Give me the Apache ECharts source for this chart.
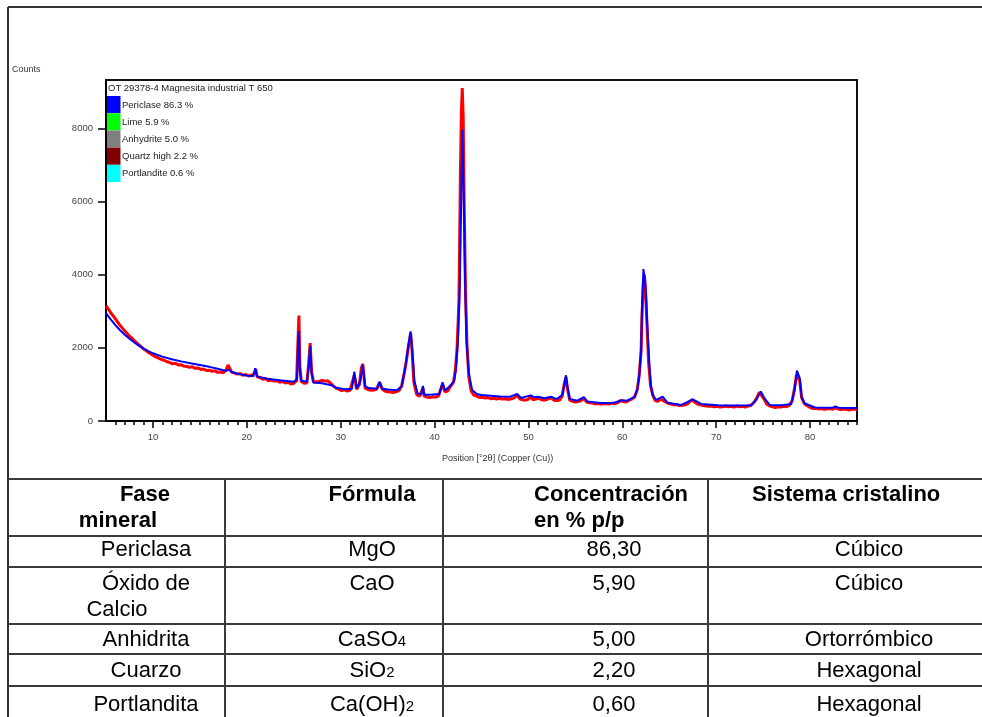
<!DOCTYPE html>
<html><head><meta charset="utf-8">
<script src="https://cdn.jsdelivr.net/npm/echarts@6/dist/echarts.min.js"></script>
<style>
html,body{margin:0;padding:0;background:#fff;}
#chart{position:absolute;left:0;top:0;width:982px;height:717px;}
#tbl{position:absolute;left:0;top:0;width:982px;height:717px;pointer-events:none;font-family:"Liberation Sans",Arial,sans-serif;color:#000;}
.t{position:absolute;white-space:nowrap;font-size:22px;line-height:1;}
.c{transform:translate(-50%,-50%);}
.l{transform:translateY(-50%);}
.b{font-weight:bold;}
.hl{position:absolute;height:2px;background:#3a3a3a;}
.vl{position:absolute;width:2px;background:#3a3a3a;}
.sb{font-size:15px;}
</style>
</head><body>
<div id="chart"></div>
<div id="tbl"></div>
<script>
// ---------- data ----------
const sampleTitle = 'OT 29378-4 Magnesita industrial T 650';
const phaseNames = ['Periclase', 'Lime', 'Anhydrite', 'Quartz high', 'Portlandite'];
const phasePct = ['86.3', '5.9', '5.0', '2.2', '0.6'];
const xTickLabels = [10, 20, 30, 40, 50, 60, 70, 80];
const yTickLabels = [0, 2000, 4000, 6000, 8000];
const xAxisTitle = 'Position [°2θ] (Copper (Cu))';
const yAxisTitle = 'Counts';

// calculated profile (blue) [2θ, counts]
const calcProfile = [
[5,2950],[5.5,2780],[6,2620],[6.5,2480],[7,2360],[7.5,2250],[8,2150],[8.5,2060],[9,1980],[9.5,1910],[10,1850],[11,1760],[12,1690],[13,1630],[14,1580],[15,1530],[16,1480],[17,1420],[17.8,1370],[18.1,1400],[18.4,1340],[19,1290],[20,1240],[20.7,1220],[20.9,1440],[21.1,1220],[22,1160],[23,1130],[24,1100],[25,1070],[25.35,1150],[25.45,2000],[25.55,2450],[25.65,1400],[25.8,1100],[26.4,1070],[26.6,1500],[26.75,2050],[26.9,1300],[27.1,1050],[28,1030],[29,980],[29.6,900],[30.5,870],[31.2,880],[31.45,1350],[31.7,890],[32.1,1100],[32.35,1540],[32.6,950],[33,900],[33.9,880],[34.15,1070],[34.4,890],[35,860],[36,840],[36.5,950],[36.9,1500],[37.2,2050],[37.45,2450],[37.6,2000],[37.85,1100],[38.2,750],[38.6,730],[38.76,960],[38.9,720],[39.5,720],[40.5,740],[40.85,1060],[41.1,830],[41.8,1000],[42.1,1100],[42.3,1480],[42.5,2250],[42.7,3850],[42.85,6250],[42.95,7950],[43.1,6300],[43.25,3850],[43.4,2200],[43.65,1300],[44,850],[44.5,740],[45,710],[46,690],[47,670],[48,660],[48.8,740],[49.2,630],[50.25,700],[50.6,650],[51,665],[51.7,620],[52.4,665],[53,600],[53.6,710],[53.8,950],[54.0,1250],[54.15,950],[54.4,600],[55.2,555],[55.9,650],[56.3,530],[57.7,490],[59.1,500],[60,570],[60.5,555],[61.3,660],[61.6,850],[61.8,1230],[62.0,1940],[62.1,3100],[62.25,4150],[62.4,4180],[62.5,3580],[62.7,2390],[62.9,1480],[63.06,940],[63.25,710],[63.6,575],[64.3,665],[64.8,500],[66.3,440],[67.5,590],[68.4,465],[70.2,430],[72,425],[73.7,430],[74.25,570],[74.75,810],[75.15,620],[75.7,440],[77,430],[78.0,465],[78.35,850],[78.6,1380],[78.9,1170],[79.1,660],[79.4,485],[80.5,370],[82.4,360],[82.7,400],[83,365],[85,355]
];

// observed profile (red) [2θ, counts]
const obsProfile = [
[5,3150],[5.25,3060],[5.5,2960],[5.75,2880],[6,2790],[6.25,2700],[6.5,2610],[6.75,2540],[7,2460],[7.25,2390],[7.5,2320],[7.75,2270],[8,2200],[8.25,2140],[8.5,2080],[8.75,2030],[9,1970],[9.25,1930],[9.5,1880],[9.75,1840],[10,1800],[10.3,1750],[10.6,1720],[10.9,1680],[11.2,1660],[11.5,1620],[11.8,1600],[12.1,1560],[12.4,1580],[12.7,1530],[13,1540],[13.3,1500],[13.6,1490],[13.9,1470],[14.2,1480],[14.5,1440],[14.8,1450],[15.1,1410],[15.4,1420],[15.7,1380],[16,1390],[16.3,1360],[16.6,1370],[16.9,1330],[17.2,1340],[17.5,1320],[17.8,1400],[18.0,1530],[18.2,1500],[18.4,1330],[18.7,1310],[19,1280],[19.3,1300],[19.6,1250],[19.9,1270],[20.2,1230],[20.5,1250],[20.8,1300],[20.95,1420],[21.1,1200],[21.4,1190],[21.7,1140],[22,1160],[22.3,1100],[22.6,1120],[22.9,1090],[23.2,1100],[23.5,1060],[23.8,1080],[24.1,1040],[24.4,1060],[24.7,1010],[25,1030],[25.3,1100],[25.45,2200],[25.55,2880],[25.65,1500],[25.8,1080],[26.1,1030],[26.4,1040],[26.6,1600],[26.75,2130],[26.9,1350],[27.1,1060],[27.4,1070],[27.7,1080],[28,1110],[28.3,1090],[28.6,1100],[28.9,1040],[29.2,960],[29.5,900],[29.8,870],[30.1,830],[30.4,850],[30.7,820],[31,840],[31.2,860],[31.45,1250],[31.7,870],[32.0,1000],[32.2,1450],[32.35,1560],[32.6,900],[32.9,860],[33.2,840],[33.5,850],[33.8,860],[34.15,1060],[34.4,880],[34.7,820],[35,800],[35.3,790],[35.6,780],[35.9,800],[36.2,830],[36.5,960],[36.8,1350],[37,1650],[37.2,2000],[37.45,2400],[37.6,1950],[37.8,1050],[38.1,720],[38.4,680],[38.76,900],[38.9,680],[39.2,650],[39.5,640],[39.8,660],[40.1,650],[40.4,680],[40.6,700],[40.85,1000],[41.1,800],[41.4,820],[41.7,950],[42.0,1050],[42.2,1350],[42.4,2000],[42.6,3300],[42.75,6700],[42.85,8400],[42.95,9100],[43.05,8300],[43.15,6000],[43.3,3500],[43.45,2100],[43.65,1200],[43.9,820],[44.2,700],[44.5,680],[44.8,640],[45.1,650],[45.4,630],[45.7,640],[46,610],[46.3,620],[46.6,600],[46.9,620],[47.2,600],[47.5,610],[47.8,590],[48.1,600],[48.4,620],[48.8,700],[49.1,600],[49.4,580],[49.7,570],[50,600],[50.25,660],[50.5,580],[50.8,600],[51.1,620],[51.4,580],[51.7,570],[52,590],[52.4,640],[52.7,570],[53,560],[53.3,570],[53.6,680],[53.8,1000],[54.0,1200],[54.15,900],[54.4,570],[54.7,540],[55,520],[55.3,530],[55.6,560],[55.9,620],[56.2,520],[56.5,500],[56.8,490],[57.1,470],[57.4,480],[57.7,460],[58,470],[58.3,480],[58.6,460],[58.9,490],[59.2,470],[59.5,500],[59.8,560],[60.1,530],[60.4,520],[60.7,560],[61,600],[61.3,650],[61.6,870],[61.8,1250],[62.0,1900],[62.1,2900],[62.25,3800],[62.35,4000],[62.45,3700],[62.6,2800],[62.8,1600],[63.0,980],[63.25,700],[63.5,560],[63.8,540],[64.1,600],[64.3,640],[64.6,520],[64.9,480],[65.2,460],[65.5,440],[65.8,450],[66.1,420],[66.4,430],[66.7,440],[67.0,480],[67.4,580],[67.7,520],[68.0,460],[68.3,440],[68.6,420],[68.9,410],[69.2,400],[69.5,410],[69.8,390],[70.1,400],[70.4,380],[70.7,390],[71.0,410],[71.3,390],[71.6,400],[71.9,380],[72.2,410],[72.5,390],[72.8,400],[73.1,380],[73.4,410],[73.7,430],[74,500],[74.3,620],[74.6,780],[74.8,790],[75.1,600],[75.4,460],[75.7,410],[76,390],[76.3,370],[76.6,390],[76.9,380],[77.2,400],[77.5,390],[77.8,430],[78.1,560],[78.35,900],[78.55,1250],[78.7,1280],[78.9,1100],[79.1,640],[79.4,470],[79.7,420],[80,370],[80.3,340],[80.6,350],[80.9,330],[81.2,340],[81.5,320],[81.8,330],[82.1,340],[82.4,320],[82.7,360],[83.0,330],[83.3,310],[83.6,330],[83.9,320],[84.2,300],[84.5,330],[84.8,320],[85,320]
];

// table
const tblHeaders = [['Fase', 'mineral'], ['Fórmula'], ['Concentración', 'en % p/p'], ['Sistema cristalino']];
const faseMineral = [['Periclasa'], ['Óxido de', 'Calcio'], ['Anhidrita'], ['Cuarzo'], ['Portlandita']];
const formulas = ['MgO', 'CaO', 'CaSO_4', 'SiO_2', 'Ca(OH)_2'];
const concentraciones = ['86,30', '5,90', '5,00', '2,20', '0,60'];
const sistemas = ['Cúbico', 'Cúbico', 'Ortorrómbico', 'Hexagonal', 'Hexagonal'];

// ---------- chart ----------
const phaseColors = ['#0000ff', '#00ff00', '#808080', '#800000', '#00ffff'];
const smallFont = '"Liberation Sans", Arial, sans-serif';
const xMinorTicks = [];
for (let v = 6; v <= 85; v++) xMinorTicks.push(v);

const graphics = [];
// outer frame
graphics.push({type:'line', shape:{x1:8, y1:7, x2:982, y2:7}, style:{stroke:'#333', lineWidth:2}, silent:true});
graphics.push({type:'line', shape:{x1:8, y1:7, x2:8, y2:717}, style:{stroke:'#333', lineWidth:2}, silent:true});
graphics.push({type:'text', left:12, top:65, style:{text:yAxisTitle, font:'9px ' + smallFont, fill:'#333'}});
graphics.push({type:'text', left:442, top:454, style:{text:xAxisTitle, font:'9px ' + smallFont, fill:'#333'}});
// in-plot legend
graphics.push({type:'text', left:108, top:83, style:{text:sampleTitle, font:'9.5px ' + smallFont, fill:'#222'}, z:10});
phaseNames.forEach((n, i) => {
  const y0 = 96 + i * 17.2;
  graphics.push({type:'rect', shape:{x:107, y:y0, width:13.5, height:17.2}, style:{fill:phaseColors[i]}, z:10});
  graphics.push({type:'text', left:122, top:y0 + 4, style:{text:n + ' ' + phasePct[i] + ' %', font:'9.5px ' + smallFont, fill:'#222'}, z:10});
});

const chart = echarts.init(document.getElementById('chart'));
chart.setOption({
  animation: false,
  backgroundColor: '#fff',
  grid: {left:106, right:125, top:80, bottom:296, show:true, borderColor:'#111', borderWidth:2, backgroundColor:'transparent'},
  xAxis: [
    {type:'value', min:5, max:85, position:'bottom',
     axisLine:{onZero:false, lineStyle:{color:'#000', width:2}},
     axisTick:{customValues:xTickLabels, length:7, lineStyle:{color:'#000', width:1.5}},
     axisLabel:{customValues:xTickLabels, color:'#444', fontSize:9.5, fontFamily:smallFont, margin:11},
     splitLine:{show:false}},
    {type:'value', min:5, max:85, position:'bottom',
     axisLine:{show:false},
     axisTick:{customValues:xMinorTicks, length:4, lineStyle:{color:'#000', width:1.5}},
     axisLabel:{show:false}, splitLine:{show:false}}
  ],
  yAxis: {type:'value', min:0, max:9320,
    axisLine:{show:true, lineStyle:{color:'#000', width:2}},
    axisTick:{show:true, customValues:yTickLabels, length:8, lineStyle:{color:'#000', width:1.5}},
    axisLabel:{customValues:yTickLabels, formatter:(v) => String(v), color:'#444', fontSize:9.5, fontFamily:smallFont, margin:13},
    splitLine:{show:false}},
  series: [
    {name:'Observed', type:'line', data:obsProfile, symbol:'none', lineStyle:{color:'#ff0000', width:3}, z:2},
    {name:'Calculated', type:'line', data:calcProfile, symbol:'none', lineStyle:{color:'#0000ff', width:2}, z:3}
  ],
  graphic: graphics
});

// ---------- table ----------
const tbl = document.getElementById('tbl');
function add(cls, css, html) {
  const d = document.createElement('div');
  d.className = cls; d.style.cssText = css; if (html !== undefined) d.innerHTML = html;
  tbl.appendChild(d);
}
function fmt(s) { return s.replace(/_(\d)/g, '<span class="sb">$1</span>'); }
const rowLines = [479, 536, 567, 624, 654, 686];
const colLines = [225, 443, 708];
rowLines.forEach(y => add('hl', 'left:8px;top:' + (y - 1) + 'px;width:974px;'));
colLines.forEach(x => add('vl', 'left:' + (x - 1) + 'px;top:479px;height:238px;'));
// headers
add('t b c', 'left:145px;top:494px;', tblHeaders[0][0]);
add('t b c', 'left:118px;top:520px;', tblHeaders[0][1]);
add('t b c', 'left:372px;top:494px;', tblHeaders[1][0]);
add('t b l', 'left:534px;top:494px;', tblHeaders[2][0]);
add('t b l', 'left:534px;top:520px;', tblHeaders[2][1]);
add('t b l', 'left:752px;top:494px;', tblHeaders[3][0]);
// rows
const rowY = [549, 583, 639, 670, 704];
faseMineral.forEach((f, i) => {
  add('t c', 'left:146px;top:' + rowY[i] + 'px;', f[0]);
  if (f[1]) add('t c', 'left:117px;top:' + (rowY[i] + 26) + 'px;', f[1]);
  add('t c', 'left:372px;top:' + rowY[i] + 'px;', fmt(formulas[i]));
  add('t c', 'left:614px;top:' + rowY[i] + 'px;', concentraciones[i]);
  add('t c', 'left:869px;top:' + rowY[i] + 'px;', sistemas[i]);
});
</script>
</body></html>
